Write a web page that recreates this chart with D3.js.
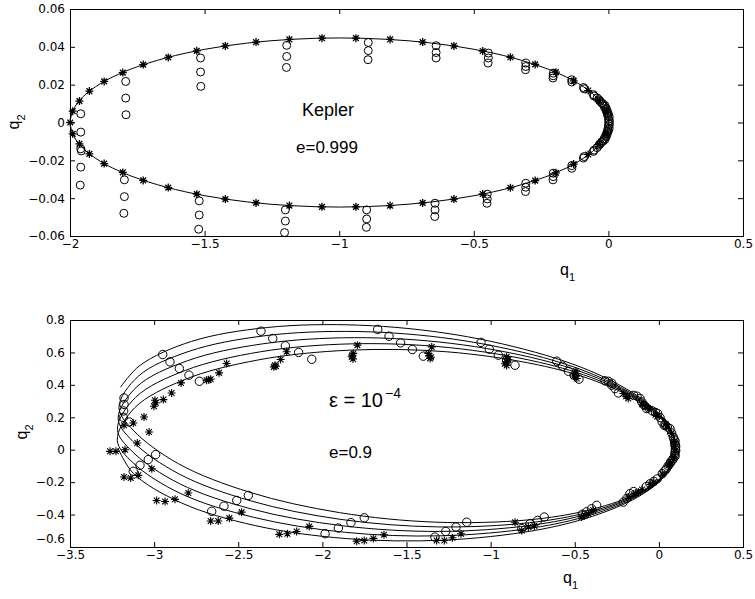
<!DOCTYPE html>
<html><head><meta charset="utf-8">
<script src="https://cdn.jsdelivr.net/npm/d3@7"></script>
<style>body{margin:0;background:#fff}svg{display:block}</style>
</head><body>
<svg id="c" width="755" height="599"></svg>
<script>
// ---------- Top panel (Kepler, e=0.999) ----------
const topXTicks = [-2, -1.5, -1, -0.5, 0, 0.5];
const topXLabels = ["\u22122", "\u22121.5", "\u22121", "\u22120.5", "0", "0.5"];
const topYTicks = [-0.06, -0.04, -0.02, 0, 0.02, 0.04, 0.06];
const topYLabels = ["\u22120.06", "\u22120.04", "\u22120.02", "0", "0.02", "0.04", "0.06"];

const keplerLine = [
  [0.001,0],[-0.003,0.0039],[-0.014,0.0078],[-0.033,0.0116],[-0.059,0.0153],[-0.093,0.0189],
  [-0.133,0.0224],[-0.180,0.0256],[-0.233,0.0287],[-0.356,0.0342],[-0.499,0.0387],[-0.657,0.0420],
  [-0.825,0.0440],[-0.999,0.0447],[-1.173,0.0440],[-1.341,0.0420],[-1.499,0.0387],[-1.642,0.0342],
  [-1.765,0.0287],[-1.818,0.0256],[-1.865,0.0224],[-1.905,0.0189],[-1.939,0.0153],[-1.965,0.0116],
  [-1.984,0.0078],[-1.995,0.0039],[-1.999,0],
  [-1.995,-0.0039],[-1.984,-0.0078],[-1.965,-0.0116],[-1.939,-0.0153],[-1.905,-0.0189],[-1.865,-0.0224],
  [-1.818,-0.0256],[-1.765,-0.0287],[-1.642,-0.0342],[-1.499,-0.0387],[-1.341,-0.0420],[-1.173,-0.0440],
  [-0.999,-0.0447],[-0.825,-0.0440],[-0.657,-0.0420],[-0.499,-0.0387],[-0.356,-0.0342],[-0.233,-0.0287],
  [-0.180,-0.0256],[-0.133,-0.0224],[-0.093,-0.0189],[-0.059,-0.0153],[-0.033,-0.0116],[-0.014,-0.0078],
  [-0.003,-0.0039]
];

const keplerStars = [
  [-1.999,0.000],
  [-1.990,0.0060],[-1.965,0.0113],[-1.928,0.0166],[-1.873,0.0217],[-1.804,0.0264],[-1.728,0.0306],
  [-1.635,0.0344],[-1.529,0.0379],[-1.423,0.0405],[-1.309,0.0425],[-1.185,0.0439],[-1.064,0.0446],
  [-0.938,0.0446],[-0.811,0.0439],[-0.690,0.0425],[-0.574,0.0405],[-0.467,0.0378],[-0.364,0.0345],
  [-0.272,0.0307],[-0.195,0.0266],[-0.129,0.0220],[-0.075,0.0169],[-0.034,0.0116],[-0.009,0.0061],
  [-1.990,-0.0060],[-1.965,-0.0113],[-1.928,-0.0166],[-1.873,-0.0217],[-1.804,-0.0264],[-1.728,-0.0306],
  [-1.635,-0.0344],[-1.529,-0.0379],[-1.423,-0.0405],[-1.309,-0.0425],[-1.185,-0.0439],[-1.064,-0.0446],
  [-0.938,-0.0446],[-0.811,-0.0439],[-0.690,-0.0425],[-0.574,-0.0405],[-0.467,-0.0378],[-0.364,-0.0345],
  [-0.272,-0.0307],[-0.195,-0.0266],[-0.129,-0.0220],[-0.075,-0.0169],[-0.034,-0.0116],[-0.009,-0.0061]
];

const keplerCircles = [
  [-1.960,0.0046],[-1.960,-0.0051],[-1.960,-0.0139],[-1.958,-0.0150],[-1.960,-0.0236],[-1.962,-0.0331],
  [-1.793,0.0217],[-1.793,0.0129],[-1.792,0.0041],[-1.798,-0.0303],[-1.798,-0.0392],[-1.800,-0.0480],
  [-1.515,0.0341],[-1.515,0.0267],[-1.514,0.0191],[-1.520,-0.0414],[-1.520,-0.0489],[-1.522,-0.0564],
  [-1.195,0.0408],[-1.195,0.0349],[-1.196,0.0291],[-1.200,-0.0462],[-1.200,-0.0521],[-1.203,-0.0582],
  [-0.892,0.0423],[-0.892,0.0380],[-0.893,0.0332],[-0.898,-0.0462],[-0.898,-0.0510],[-0.899,-0.0554],
  [-0.640,0.0406],[-0.640,0.0370],[-0.640,0.0341],[-0.644,-0.0427],[-0.644,-0.0462],[-0.645,-0.0497],
  [-0.446,0.0367],[-0.446,0.0341],[-0.447,0.0314],[-0.450,-0.0379],[-0.450,-0.0404],[-0.451,-0.0427],
  [-0.307,0.0314],[-0.307,0.0296],[-0.308,0.0279],[-0.307,-0.0321],[-0.307,-0.0342],[-0.308,-0.0365],
  [-0.205,0.0261],[-0.205,0.0247],[-0.206,0.0235],[-0.205,-0.0268],[-0.205,-0.0286],[-0.206,-0.0303],
  [-0.136,0.0226],[-0.136,0.0214],[-0.136,-0.0228],[-0.136,-0.0242],
  [-0.093,0.0185],[-0.090,0.0178],[-0.093,-0.0188],[-0.090,-0.0180],
  [-0.056,0.0147],[-0.053,0.0140],[-0.056,-0.0153],[-0.053,-0.0146],
  [-0.035,0.0120],[-0.025,0.0103],[-0.016,0.0085],[-0.010,0.0068],[-0.005,0.0050],[-0.002,0.0034],
  [0.000,0.0017],[0.001,0.0000],[0.000,-0.0017],[-0.002,-0.0034],[-0.005,-0.0050],[-0.010,-0.0068],
  [-0.016,-0.0085],[-0.025,-0.0103],[-0.035,-0.0120],
  [0.004,0.0010],[0.004,-0.0010],[0.003,0.0030],[0.003,-0.0030],[0.000,0.0045],[0.000,-0.0045],
  [-0.004,0.0060],[-0.004,-0.0060],[-0.008,0.0075],[-0.008,-0.0075],[-0.013,0.0090],[-0.013,-0.0090],
  [-0.020,0.0098],[-0.020,-0.0098],[-0.030,0.0112],[-0.030,-0.0112],[-0.042,0.0130],[-0.042,-0.0133]
];

// ---------- Bottom panel (eps = 1e-4, e=0.9) ----------
const botXTicks = [-3.5, -3, -2.5, -2, -1.5, -1, -0.5, 0, 0.5];
const botXLabels = ["\u22123.5","\u22123","\u22122.5","\u22122","\u22121.5","\u22121","\u22120.5","0","0.5"];
const botYTicks = [-0.6, -0.4, -0.2, 0, 0.2, 0.4, 0.6, 0.8];
const botYLabels = ["\u22120.6","\u22120.4","\u22120.2","0","0.2","0.4","0.6","0.8"];

const loop1 = [[-3.200,0.385],[-3.083,0.521],[-2.778,0.668],[-2.325,0.754],[-1.779,0.768],[-1.206,0.709],[-0.674,0.583],[-0.341,0.455],[-0.091,0.306],[0.038,0.179],[0.092,0.073],[0.099,-0.010],[0.075,-0.090],[0.000,-0.183],[-0.152,-0.281],[-0.427,-0.375],[-0.779,-0.433],[-1.325,-0.447],[-1.898,-0.388],[-2.430,-0.263],[-2.856,-0.086],[-3.124,0.120]];
const loop2 = [[-3.209,0.261],[-3.093,0.454],[-2.792,0.607],[-2.341,0.703],[-1.795,0.729],[-1.221,0.682],[-0.686,0.568],[-0.351,0.447],[-0.098,0.304],[0.034,0.180],[0.090,0.075],[0.100,-0.008],[0.077,-0.089],[0.004,-0.183],[-0.146,-0.284],[-0.418,-0.385],[-0.769,-0.450],[-1.315,-0.476],[-1.889,-0.430],[-2.424,-0.316],[-2.853,-0.149],[-3.126,0.051]];
const loop3 = [[-3.214,0.193],[-3.102,0.389],[-2.804,0.548],[-2.355,0.653],[-1.810,0.691],[-1.235,0.656],[-0.698,0.554],[-0.360,0.440],[-0.104,0.302],[0.030,0.181],[0.089,0.077],[0.100,-0.006],[0.079,-0.087],[0.008,-0.183],[-0.140,-0.287],[-0.410,-0.393],[-0.759,-0.466],[-1.305,-0.504],[-1.880,-0.469],[-2.416,-0.367],[-2.850,-0.209],[-3.127,-0.014]];
const loop4 = [[-3.218,0.126],[-3.110,0.323],[-2.815,0.489],[-2.368,0.604],[-1.824,0.653],[-1.248,0.630],[-0.710,0.539],[-0.369,0.432],[-0.110,0.300],[0.026,0.181],[0.087,0.079],[0.100,-0.004],[0.081,-0.085],[0.012,-0.183],[-0.133,-0.290],[-0.402,-0.402],[-0.749,-0.482],[-1.294,-0.531],[-1.869,-0.509],[-2.408,-0.417],[-2.845,-0.269],[-3.126,-0.080]];
const loop5 = [[-3.219,0.058],[-3.116,0.258],[-2.825,0.430],[-2.380,0.554],[-1.837,0.614],[-1.261,0.604],[-0.721,0.524],[-0.378,0.424],[-0.117,0.297],[0.022,0.182],[0.085,0.081],[0.100,-0.002],[0.082,-0.084],[0.016,-0.183],[-0.127,-0.293],[-0.393,-0.410],[-0.739,-0.498],[-1.282,-0.558],[-1.858,-0.548],[-2.399,-0.468],[-2.838,-0.328],[-3.123,-0.146],[-3.215,0.010]];

const pertCircles = [
  [-2.365,0.731],[-2.295,0.686],[-2.220,0.641],[-2.141,0.600],[-2.063,0.558],
  [-1.671,0.742],[-1.604,0.700],[-1.535,0.659],[-1.465,0.618],[-1.400,0.577],
  [-1.057,0.662],[-1.008,0.620],[-0.954,0.583],[-0.905,0.552],[-0.855,0.521],
  [-0.607,0.546],[-0.572,0.515],[-0.538,0.484],[-0.504,0.459],[-0.475,0.435],
  [-0.300,0.422],[-0.281,0.398],[-0.261,0.377],[-0.241,0.350],[-0.280,0.410],[-0.320,0.425],
  [-0.112,0.316],[-0.102,0.295],[-0.087,0.274],[-0.073,0.254],[-0.130,0.330],[-0.150,0.335],
  [-0.007,0.223],[0.007,0.198],[0.020,0.171],[0.032,0.151],[-0.020,0.230],[-0.040,0.240],
  [0.066,0.130],[0.076,0.103],[0.086,0.078],[0.096,0.054],[0.050,0.140],[0.040,0.150],
  [0.098,0.030],[0.098,0.007],[0.096,-0.017],[0.096,-0.041],[0.090,0.065],[0.093,0.040],
  [0.100,0.020],[0.100,-0.005],[0.095,-0.030],[0.085,-0.055],
  [0.080,-0.065],[0.066,-0.086],[0.045,-0.118],[0.020,-0.148],[0.070,-0.075],[0.055,-0.100],[0.035,-0.130],
  [-0.010,-0.180],[-0.053,-0.210],[-0.075,-0.228],[-0.030,-0.195],
  [-0.150,-0.258],[-0.172,-0.271],[-0.190,-0.300],[-0.211,-0.323],
  [-0.370,-0.343],[-0.400,-0.364],[-0.430,-0.383],[-0.455,-0.398],
  [-0.681,-0.415],[-0.721,-0.436],[-0.766,-0.457],[-0.815,-0.487],
  [-1.142,-0.447],[-1.206,-0.477],[-1.267,-0.504],[-1.331,-0.539],
  [-1.751,-0.420],[-1.830,-0.450],[-1.905,-0.483],[-1.984,-0.518],
  [-2.440,-0.282],[-2.509,-0.313],[-2.585,-0.348],[-2.658,-0.380],
  [-2.991,-0.030],[-3.035,-0.061],[-3.084,-0.096],[-3.124,-0.133],
  [-3.179,0.319],[-3.179,0.279],[-3.181,0.239],[-3.183,0.200],[-3.148,0.171],
  [-2.949,0.587],[-2.906,0.542],[-2.850,0.501],[-2.793,0.460],[-2.731,0.422]
];

const pertStars = [
  [-1.792,0.645],[-1.816,0.594],[-1.826,0.573],[-1.822,0.583],[-1.818,0.560],
  [-2.212,0.604],[-2.248,0.556],[-2.282,0.521],[-2.288,0.511],[-2.276,0.515],
  [-2.569,0.532],[-2.614,0.474],[-2.664,0.435],[-2.688,0.429],[-2.676,0.432],
  [-2.840,0.412],[-2.896,0.350],[-2.945,0.309],[-2.995,0.305],[-3.001,0.268],[-2.990,0.290],
  [-3.060,0.202],[-3.030,0.109],[-3.124,0.165],[-3.179,0.151],
  [-3.100,0.041],[-3.173,0.000],[-3.227,-0.010],[-3.262,-0.010],
  [-3.179,-0.168],[-3.139,-0.175],[-3.094,-0.158],[-3.014,-0.117],
  [-2.985,-0.313],[-2.935,-0.319],[-2.876,-0.306],[-2.797,-0.267],
  [-2.664,-0.440],[-2.619,-0.440],[-2.553,-0.422],[-2.480,-0.385],
  [-2.256,-0.522],[-2.208,-0.518],[-2.153,-0.504],[-2.078,-0.473],
  [-1.796,-0.564],[-1.751,-0.560],[-1.697,-0.547],[-1.634,-0.524],
  [-1.321,-0.560],[-1.275,-0.560],[-1.227,-0.543],[-1.176,-0.518],
  [-0.855,-0.447],[-0.815,-0.498],[-0.776,-0.477],[-0.740,-0.470],
  [-0.459,-0.415],[-0.419,-0.395],[-0.390,-0.374],[-0.440,-0.405],
  [-0.182,-0.292],[-0.122,-0.261],[-0.150,-0.275],[-0.140,-0.270],[-0.100,-0.245],
  [-0.050,-0.215],[-0.030,-0.200],[0.020,-0.150],[0.060,-0.095],[0.070,-0.080],[0.085,-0.050],
  [0.092,0.020],[0.095,-0.010],[0.090,0.050],[0.075,0.100],[0.040,0.160],[0.045,0.140],
  [-0.020,0.215],[-0.010,0.205],[-0.080,0.265],[-0.060,0.250],[-0.100,0.280],
  [-0.211,0.347],[-0.182,0.316],[-0.195,0.330],
  [-0.498,0.470],[-0.488,0.439],[-0.505,0.455],[-0.493,0.485],
  [-0.905,0.573],[-0.905,0.542],[-0.905,0.520],[-0.895,0.555],[-0.915,0.530],
  [-1.350,0.634],[-1.370,0.594],[-1.360,0.563],[-1.365,0.580],[-1.355,0.570]
];

// ---------- drawing ----------
const svg = d3.select('#c');
const starPath = (r) => { const d = r * 0.72; return `M${-r},0H${r}M0,${-r}V${r}M${-d},${-d}L${d},${d}M${-d},${d}L${d},${-d}`; };

function panel(opt) {
  const x = d3.scaleLinear().domain(opt.xDom).range([70, 743]);
  const y = d3.scaleLinear().domain(opt.yDom).range([opt.bottom, opt.top]);
  const g = svg.append('g');

  g.append('rect').attr('x', 70.5).attr('y', opt.top + 0.5)
    .attr('width', 673).attr('height', opt.bottom - opt.top)
    .attr('fill', 'none').attr('stroke', '#000').attr('stroke-width', 1);

  const fmtX = (d, i) => opt.xLabels[i];
  const fmtY = (d, i) => opt.yLabels[i];
  const left = g.append('g').attr('transform', `translate(70,0)`)
      .call(d3.axisLeft(y).tickValues(opt.yTicks).tickFormat(fmtY).tickSize(-5).tickPadding(5));
  const ax = [
    g.append('g').attr('transform', `translate(0,${opt.bottom})`)
      .call(d3.axisBottom(x).tickValues(opt.xTicks).tickFormat(fmtX).tickSize(-5).tickPadding(3)),
    g.append('g').attr('transform', `translate(0,${opt.top})`)
      .call(d3.axisTop(x).tickValues(opt.xTicks).tickFormat('').tickSize(-5)),
    left,
    g.append('g').attr('transform', `translate(743,0)`)
      .call(d3.axisRight(y).tickValues(opt.yTicks).tickFormat('').tickSize(-5))
  ];
  ax.forEach(a => {
    a.select('.domain').remove();
    a.attr('font-family', '"DejaVu Sans", sans-serif').attr('font-size', 12).attr('color', '#000');
  });
  if (opt.nudge) {
    left.selectAll('.tick').filter(d => d === opt.nudge.value).select('text')
      .attr('transform', `translate(0,${opt.nudge.dy})`);
  }
  return { g, x, y };
}

// Top
const P1 = panel({ xDom: [-2, 0.5], yDom: [-0.06, 0.06], top: 9, bottom: 236,
  xTicks: topXTicks, xLabels: topXLabels, yTicks: topYTicks, yLabels: topYLabels });
P1.g.append('path').datum(keplerLine)
  .attr('d', d3.line().x(d => P1.x(d[0])).y(d => P1.y(d[1])).curve(d3.curveCatmullRomClosed.alpha(0.5)))
  .attr('fill', 'none').attr('stroke', '#000').attr('stroke-width', 1);
P1.g.append('g').selectAll('path').data(keplerStars).join('path')
  .attr('transform', d => `translate(${P1.x(d[0])},${P1.y(d[1])})`)
  .attr('d', starPath(4)).attr('fill', 'none').attr('stroke', '#000').attr('stroke-width', 1.3);
P1.g.append('g').selectAll('circle').data(keplerCircles).join('circle')
  .attr('cx', d => P1.x(d[0])).attr('cy', d => P1.y(d[1])).attr('r', 4)
  .attr('fill', 'none').attr('stroke', '#000').attr('stroke-width', 1);

// Bottom
const P2 = panel({ xDom: [-3.5, 0.5], yDom: [-0.6, 0.8], top: 320, bottom: 547,
  xTicks: botXTicks, xLabels: botXLabels, yTicks: botYTicks, yLabels: botYLabels,
  nudge: { value: -0.6, dy: -8 } });
const orbit = [].concat(loop1, loop2, loop3, loop4, loop5);
P2.g.append('path').datum(orbit)
  .attr('d', d3.line().x(d => P2.x(d[0])).y(d => P2.y(d[1])).curve(d3.curveCatmullRom.alpha(0.5)))
  .attr('fill', 'none').attr('stroke', '#000').attr('stroke-width', 1);
P2.g.append('g').selectAll('path').data(pertStars).join('path')
  .attr('transform', d => `translate(${P2.x(d[0])},${P2.y(d[1])})`)
  .attr('d', starPath(4)).attr('fill', 'none').attr('stroke', '#000').attr('stroke-width', 1.1);
P2.g.append('g').selectAll('circle').data(pertCircles).join('circle')
  .attr('cx', d => P2.x(d[0])).attr('cy', d => P2.y(d[1])).attr('r', 4.2)
  .attr('fill', 'none').attr('stroke', '#000').attr('stroke-width', 1);

// Texts
const TF = '"Liberation Sans", Arial, Helvetica, sans-serif';
svg.append('text').attr('x', 302).attr('y', 116).attr('font-family', TF).attr('font-size', 18).text('Kepler');
svg.append('text').attr('x', 296).attr('y', 153).attr('font-family', TF).attr('font-size', 17).text('e=0.999');
svg.append('text').attr('x', 329).attr('y', 458).attr('font-family', TF).attr('font-size', 17).text('e=0.9');
const eps = svg.append('text').attr('x', 329).attr('y', 407).attr('font-family', TF).attr('font-size', 20);
eps.append('tspan').text('\u03b5 = 10');
eps.append('tspan').attr('dx', 2).attr('dy', -9).attr('font-size', 14).text('\u22124');

function qLabel(x, y, sub, rotate) {
  const t = svg.append('text').attr('font-family', TF).attr('font-size', 16);
  if (rotate) t.attr('transform', `translate(${x},${y}) rotate(-90)`).attr('text-anchor', 'middle');
  else t.attr('x', x).attr('y', y);
  t.append('tspan').text('q');
  t.append('tspan').attr('dy', 6).attr('font-size', 11).text(sub);
}
qLabel(560, 275, '1', false);
qLabel(563, 583, '1', false);
qLabel(18.5, 122, '2', true);
qLabel(26.5, 432, '2', true);
</script>
</body></html>
